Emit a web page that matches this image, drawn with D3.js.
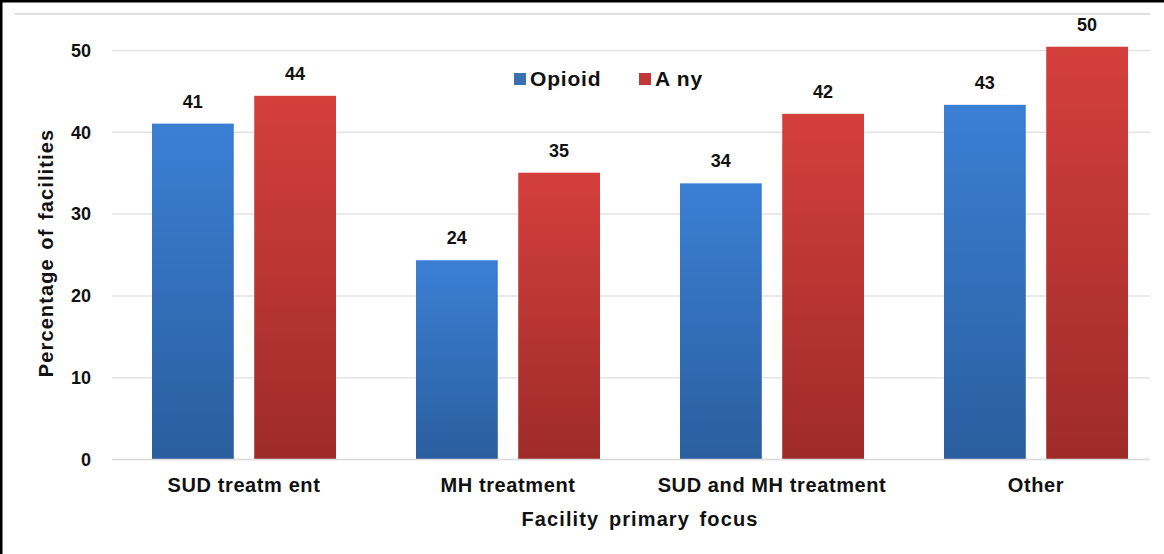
<!DOCTYPE html>
<html><head><meta charset="utf-8">
<script src="https://cdn.jsdelivr.net/npm/d3@7"></script>
<style>body{margin:0;background:#fff}svg{display:block}text{font-family:"Liberation Sans",Arial,sans-serif;font-weight:bold;fill:#111}</style>
</head><body><svg id="c" width="1164" height="554"></svg>
<script>
const categories = ["SUD treatm ent","MH treatment","SUD and MH treatment","Other"];
const seriesNames = ["Opioid","Any"];
const opioid = [41.0, 24.3, 33.7, 43.3];
const any = [44.4, 35.0, 42.2, 50.4];
const yTicks = [0,10,20,30,40,50];

const svg = d3.select("#c");
const W=1164,H=554;
const x0 = d3.scaleBand().domain(categories).range([112,1168]).paddingInner(0).paddingOuter(0);
const x1 = d3.scaleBand().domain(seriesNames).range([40,224]).paddingInner(0.2);
const y = d3.scaleLinear().domain([0,50]).range([459,50]);

const defs = svg.append("defs");
function grad(id,top,bot){const g=defs.append("linearGradient").attr("id",id).attr("x1",0).attr("y1",0).attr("x2",0).attr("y2",1);
g.append("stop").attr("offset","0%").attr("stop-color",top);g.append("stop").attr("offset","100%").attr("stop-color",bot);}
grad("gb","#3b7fd4","#2a5e9e");grad("gr","#d43f3c","#9e2b29");
const fills={Opioid:"url(#gb)",Any:"url(#gr)"};
const legendCol={Opioid:"#3a6fb0",Any:"#c0393a"};

// border lines
svg.append("rect").attr("x",0).attr("y",0).attr("width",W).attr("height",2.5).attr("fill","#000");
svg.append("rect").attr("x",0).attr("y",0).attr("width",2.5).attr("height",H).attr("fill","#000");
svg.append("line").attr("x1",15).attr("x2",1150).attr("y1",14).attr("y2",14).attr("stroke","#ddd").attr("stroke-width",2);

// grid
const yAxis = d3.axisLeft(y).tickValues(yTicks).tickSize(-(1150-112)).tickPadding(21);
const ga = svg.append("g").attr("transform","translate(112,0)").call(yAxis);
ga.select(".domain").remove();
ga.selectAll(".tick line").attr("stroke","#e3e3e3").attr("stroke-width",1.5);
ga.selectAll(".tick text").style("font-size","18px").attr("fill","#111").attr("dy","0.35em");

const data = categories.map((c,i)=>({c,vals:[{k:"Opioid",v:opioid[i]},{k:"Any",v:any[i]}]}));
const groups = svg.append("g").selectAll("g").data(data).join("g").attr("transform",d=>`translate(${x0(d.c)},0)`);
groups.selectAll("rect").data(d=>d.vals).join("rect")
 .attr("x",d=>x1(d.k)).attr("width",x1.bandwidth()).attr("y",d=>y(d.v)).attr("height",d=>y(0)-y(d.v)).attr("fill",d=>fills[d.k]);
groups.selectAll("text.v").data(d=>d.vals).join("text").attr("class","v")
 .attr("x",d=>x1(d.k)+x1.bandwidth()/2).attr("y",d=>y(d.v)-16).attr("text-anchor","middle").style("font-size","18px").text(d=>Math.round(d.v));

// x labels
const xa = svg.append("g").attr("transform","translate(0,459)").call(d3.axisBottom(x0).tickSize(0).tickPadding(19));
xa.select(".domain").remove();
xa.selectAll(".tick text").style("font-size","20px").style("letter-spacing","0.6px").attr("fill","#111");
svg.append("line").attr("x1",112).attr("x2",1150).attr("y1",459.5).attr("y2",459.5).attr("stroke","#ddd").attr("stroke-width",1.5);

svg.append("text").attr("x",640).attr("y",526).attr("text-anchor","middle").style("font-size","20px").style("letter-spacing","1.1px").style("word-spacing","3px").text("Facility primary focus");
svg.append("text").attr("transform","translate(53,253) rotate(-90)").attr("text-anchor","middle").style("font-size","20px").style("letter-spacing","1.1px").style("word-spacing","2px").text("Percentage of facilities");

// legend
const leg=[{k:"Opioid",x:514,label:"Opioid"},{k:"Any",x:639,label:"A ny"}];
const lg=svg.append("g").selectAll("g").data(leg).join("g");
lg.append("rect").attr("x",d=>d.x).attr("y",73).attr("width",12).attr("height",12).attr("fill",d=>legendCol[d.k]);
lg.append("text").attr("x",d=>d.x+16).attr("y",86).style("font-size","21px").style("letter-spacing","0.8px").text(d=>d.label);
</script></body></html>
